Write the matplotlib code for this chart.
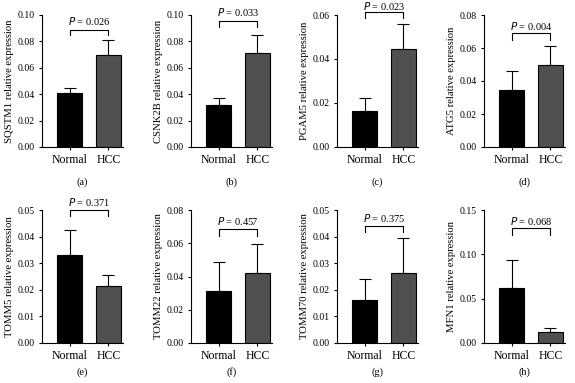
import matplotlib
matplotlib.use("Agg")
import matplotlib.pyplot as plt

plt.rcParams['font.family'] = ['Liberation Serif', 'DejaVu Serif']
plt.rcParams['font.size'] = 7.5

# data
groups = ['Normal', 'HCC']
genes = ['SQSTM1', 'CSNK2B', 'PGAM5', 'ATG5', 'TOMM5', 'TOMM22', 'TOMM70', 'MFN1']
panel_tags = ['(a)', '(b)', '(c)', '(d)', '(e)', '(f)', '(g)', '(h)']
means = [
    [0.041, 0.070],
    [0.032, 0.071],
    [0.0165, 0.0445],
    [0.0345, 0.0495],
    [0.033, 0.0215],
    [0.031, 0.042],
    [0.016, 0.0265],
    [0.062, 0.0125],
]
upper = [
    [0.045, 0.081],
    [0.0375, 0.085],
    [0.0225, 0.056],
    [0.046, 0.061],
    [0.0425, 0.0255],
    [0.049, 0.0595],
    [0.024, 0.0395],
    [0.094, 0.0165],
]
p_values = ['0.026', '0.033', '0.023', '0.004', '0.371', '0.457', '0.375', '0.068']
y_max = [0.10, 0.10, 0.06, 0.08, 0.05, 0.08, 0.05, 0.15]
y_step = [0.02, 0.02, 0.02, 0.02, 0.01, 0.02, 0.01, 0.05]
# bracket (line level, leg bottom) and p text height, in data units
bracket = [
    (0.089, 0.085, 0.0957),
    (0.0957, 0.091, 0.1025),
    (0.0612, 0.0585, 0.0643),
    (0.0689, 0.0648, 0.0735),
    (0.050, 0.0477, 0.0531),
    (0.0684, 0.0645, 0.0736),
    (0.0441, 0.0418, 0.0469),
    (0.1294, 0.1218, 0.138),
]
colors = ['black', '#505050']

W, H = 575, 383
fig = plt.figure(figsize=(W / 100, H / 100), dpi=100)

lefts = [42, 191, 337, 484]
# (top px, bottom px, tag offset) per row
rows = [(15, 147, -0.27), (210, 343, -0.22)]
ax_w = 81

for i, gene in enumerate(genes):
    r, c = divmod(i, 4)
    top, bot, tag_y = rows[r]
    ax = fig.add_axes([lefts[c] / W, 1 - bot / H, ax_w / W, (bot - top) / H])
    x = [0, 1]
    ax.bar(x, means[i], width=0.64, color=colors, edgecolor='black', linewidth=0.8, zorder=2)
    err = [u - m for u, m in zip(upper[i], means[i])]
    ax.errorbar(x, means[i], yerr=[[0, 0], err], fmt='none', ecolor='black',
                elinewidth=0.8, capsize=4, capthick=0.8, zorder=1)
    ax.set_xlim(-0.72, 1.38)
    ax.set_ylim(0, y_max[i])
    ticks = [k * y_step[i] for k in range(int(round(y_max[i] / y_step[i])) + 1)]
    ax.set_yticks(ticks)
    ax.set_yticklabels(['%.2f' % t for t in ticks])
    ax.set_xticks(x)
    ax.set_xticklabels(groups)
    ax.tick_params(length=2.5, width=0.8, pad=2.5)
    ax.tick_params(axis='y', labelsize=7)
    ax.tick_params(axis='x', labelsize=8.5, pad=2.5)
    for s in ['top', 'right']:
        ax.spines[s].set_visible(False)
    for s in ['left', 'bottom']:
        ax.spines[s].set_linewidth(0.8)
    ax.set_ylabel(gene + ' relative expression', fontsize=7.7, labelpad=3)
    ln, leg, ty = bracket[i]
    ax.plot([0, 0, 1, 1], [leg, ln, ln, leg], color='black', lw=0.8, clip_on=False)
    ax.text(0.5, ty, r'$P$ = ' + p_values[i], ha='center', va='center',
            fontsize=7.5, clip_on=False)
    ax.text(0.5, tag_y, panel_tags[i], transform=ax.transAxes, ha='center',
            va='center', fontsize=7.5)

fig.savefig('out.png', dpi=100)
